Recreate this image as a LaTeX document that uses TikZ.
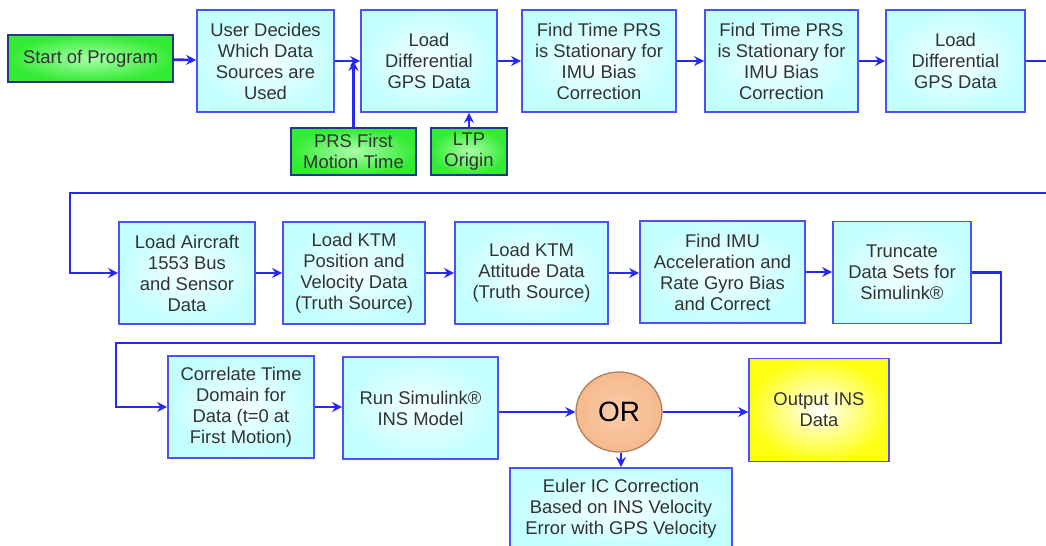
\documentclass[tikz,border=0pt]{standalone}
\usepackage{fontspec}
\setmainfont{Liberation Sans}
\usetikzlibrary{shapes.geometric, arrows.meta}
\definecolor{textgray}{RGB}{50,50,50}
\definecolor{boxedge}{RGB}{80,80,250}
\definecolor{boxfill}{RGB}{195,255,255}
\definecolor{boxlight}{RGB}{245,255,255}
\definecolor{greenfill}{RGB}{50,235,50}
\definecolor{greenlight}{RGB}{170,255,170}
\definecolor{greenedge}{RGB}{35,55,130}
\definecolor{tanfill}{RGB}{245,185,140}
\definecolor{tanlight}{RGB}{250,205,170}
\definecolor{tanedge}{RGB}{175,130,100}
\definecolor{yellowfill}{RGB}{255,255,20}
\definecolor{linkblue}{RGB}{40,40,245}
\tikzstyle{source} = [rectangle, minimum height=35.25pt, inner sep=0pt, align=center, text=textgray, draw=greenedge, line width=1.3pt, inner color=greenlight, outer color=greenfill, font=\fontsize{13.8}{15.75}\selectfont]
\tikzstyle{process} = [rectangle, minimum height=76.5pt, inner sep=0pt, align=center, text=textgray, draw=boxedge, line width=1.3pt, inner color=boxlight, outer color=boxfill, font=\fontsize{13.8}{15.75}\selectfont]
\tikzstyle{gate} = [ellipse, minimum width=64.5pt, minimum height=60pt, inner sep=0pt, text=black, draw=tanedge, line width=1pt, inner color=tanlight, outer color=tanfill, font=\fontsize{21}{24}\selectfont]
\tikzstyle{result} = [rectangle, minimum width=105pt, minimum height=77.25pt, inner sep=0pt, align=center, text=textgray, draw=boxedge, line width=1.3pt, inner color=white, outer color=yellowfill, font=\fontsize{13.8}{15.75}\selectfont]
\tikzstyle{arrow} = [line width=2pt, ->, >={Stealth[length=7.5pt, width=7.5pt]}, draw=linkblue]

\begin{document}
\begin{tikzpicture}[x=0.75pt, y=-0.75pt]
\useasboundingbox (0,0) rectangle (1046,546);

\node (start) [source, minimum width=123.75pt] at (90.5,58.5) {Start of Program};
\node (user) [process, minimum width=102.75pt] at (265.5,61) {User Decides\\Which Data\\Sources are\\Used};
\node (ldgps) [process, minimum width=102pt] at (429,61) {Load\\Differential\\GPS Data};
\node (findA) [process, minimum width=115.5pt] at (599,61) {Find Time PRS\\is Stationary for\\IMU Bias\\Correction};
\node (findB) [process, minimum width=114.75pt] at (781.5,61) {Find Time PRS\\is Stationary for\\IMU Bias\\Correction};
\node (ldgpsB) [process, minimum width=104.25pt] at (955.5,61) {Load\\Differential\\GPS Data};
\node (prs) [source, minimum width=93.75pt] at (353.5,151.5) {PRS First\\Motion Time};
\node (ltp) [source, minimum width=57pt] at (469,151.5) {LTP\\Origin};

\node (aircraft) [process, minimum width=102pt] at (187,273) {Load Aircraft\\1553 Bus\\and Sensor\\Data};
\node (ktmpos) [process, minimum width=106.5pt] at (354,273) {Load KTM\\Position and\\Velocity Data\\(Truth Source)};
\node (ktmatt) [process, minimum width=114.75pt] at (531.5,273) {Load KTM\\Attitude Data\\(Truth Source)};
\node (findimu) [process, minimum width=123.75pt] at (722.5,272) {Find IMU\\Acceleration and\\Rate Gyro Bias\\and Correct};
\node (truncate) [process, minimum width=103.5pt] at (902,272.5) {Truncate\\Data Sets for\\Simulink®};

\node (correlate) [process, minimum width=109.5pt] at (241,407) {Correlate Time\\Domain for\\Data (t=0 at\\First Motion)};
\node (runsim) [process, minimum width=116.25pt] at (420.5,408) {Run Simulink®\\INS Model};
\node (orgate) [gate] at (619,412) {OR};
\node (output) [result] at (819,410) {Output INS\\Data};
\node (euler) [process, minimum width=166.5pt, minimum height=60.75pt] at (621,508.5) {Euler IC Correction\\Based on INS Velocity\\Error with GPS Velocity};

\coordinate (wrapB) at (1056,193);
\coordinate (wrapC) at (70,193);
\coordinate (wrapD) at (1001,343);
\coordinate (wrapE) at (116,343);

\draw [arrow] (start) -- (user);
\draw [arrow] (user) -- (ldgps);
\draw [arrow] (prs.north) -- (prs.north |- user.east);
\draw [arrow] (ltp.north) -- (ltp.north |- ldgps.south);
\draw [arrow] (ldgps) -- (findA);
\draw [arrow] (findA) -- (findB);
\draw [arrow] (findB) -- (ldgpsB);
\draw [arrow] (ldgpsB.east) -| (wrapB) -- (wrapC) |- (aircraft.west);
\draw [arrow] (aircraft) -- (ktmpos);
\draw [arrow] (ktmpos) -- (ktmatt);
\draw [arrow] (ktmatt) -- (findimu.west |- ktmatt.east);
\draw [arrow] (findimu.east) -- (findimu.east -| truncate.west);
\draw [arrow] (truncate.east) -| (wrapD) -- (wrapE) |- (correlate.west);
\draw [arrow] (correlate.east) -- (correlate.east -| runsim.west);
\draw [arrow] (runsim.east |- orgate.west) -- (orgate.west);
\draw [arrow] (orgate.east) -- (orgate.east -| output.west);
\draw [arrow] (orgate.south -| euler.north) -- (euler.north);

\end{tikzpicture}
\end{document}
